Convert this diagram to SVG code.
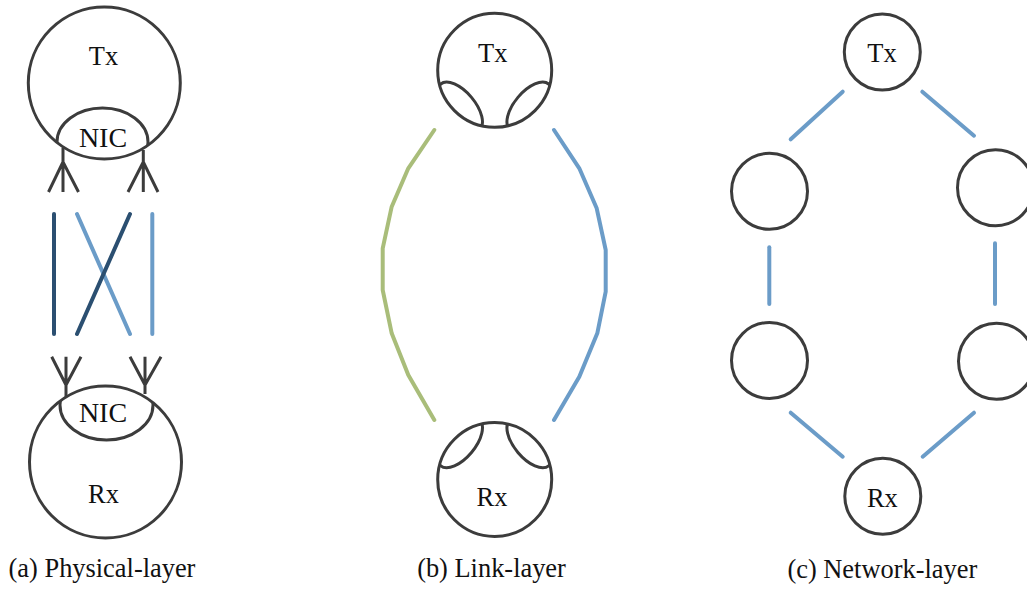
<svg xmlns="http://www.w3.org/2000/svg" width="1027" height="589" viewBox="0 0 1027 589">
<style>
.node{fill:none;stroke:#3c3c3c;stroke-width:3}
.lbl{font-family:"Liberation Serif","Times New Roman",serif;font-size:26.4px;fill:#111;text-anchor:middle}
.nic{font-size:28px}
.ant{fill:none;stroke:#3c3c3c;stroke-width:3;stroke-linecap:butt}
.lb{fill:none;stroke:#6b9cc8;stroke-width:4;stroke-linecap:round;stroke-linejoin:round}
.db{fill:none;stroke:#2b4f71;stroke-width:4;stroke-linecap:round}
.gr{fill:none;stroke:#a9bd7a;stroke-width:4;stroke-linecap:round;stroke-linejoin:round}
</style>
<defs>
<clipPath id="cTxA"><circle cx="104.3" cy="83" r="76"/></clipPath>
<clipPath id="cRxA"><circle cx="105.5" cy="462" r="76"/></clipPath>
<clipPath id="cTxB"><circle cx="494.7" cy="70.3" r="57"/></clipPath>
<clipPath id="cRxB"><circle cx="494.7" cy="479.5" r="57"/></clipPath>
</defs>

<!-- Panel (a) -->
<g id="a-tx">
<circle class="node" cx="104.3" cy="83" r="76"/>
<text class="lbl" x="103.5" y="65">Tx</text>
</g>
<g id="a-tx-nic">
<ellipse class="node" cx="102.5" cy="142" rx="45.5" ry="34" clip-path="url(#cTxA)"/>
<text class="lbl nic" x="103" y="147">NIC</text>
</g>
<g id="a-rx">
<circle class="node" cx="105.5" cy="462" r="76"/>
<text class="lbl" x="103.5" y="503">Rx</text>
</g>
<g id="a-rx-nic">
<ellipse class="node" cx="106.5" cy="405" rx="46.5" ry="35" clip-path="url(#cRxA)"/>
<text class="lbl nic" x="103" y="422">NIC</text>
</g>
<g id="a-antennas">
<path class="ant" d="M63,148V192M63,162L48.5,192M63,162L78.5,192"/>
<path class="ant" d="M143.3,150V192M143.3,162L128,192M143.3,162L158,192"/>
<path class="ant" d="M66,356.7V397M66,385L51.7,356.7M66,385L81,356.7"/>
<path class="ant" d="M145,356.7V394M145,385L130,356.7M145,385L161,356.7"/>
</g>
<g id="a-connectors">
<line class="db" x1="54" y1="214" x2="54" y2="334"/>
<line class="lb" x1="77" y1="214" x2="130" y2="334"/>
<line class="db" x1="130" y1="214" x2="77" y2="334"/>
<line class="lb" x1="152.3" y1="214" x2="152.3" y2="334"/>
</g>
<text class="lbl" x="102" y="577">(a) Physical-layer</text>

<!-- Panel (b) -->
<g id="b-tx">
<circle class="node" cx="494.7" cy="70.3" r="57"/>
<g clip-path="url(#cTxB)">
<ellipse class="node" cx="460" cy="107" rx="30" ry="15" transform="rotate(50 460 107)"/>
<ellipse class="node" cx="529.4" cy="107" rx="30" ry="15" transform="rotate(-50 529.4 107)"/>
</g>
<text class="lbl" x="492.7" y="62">Tx</text>
</g>
<g id="b-rx">
<circle class="node" cx="494.7" cy="479.5" r="57"/>
<g clip-path="url(#cRxB)">
<ellipse class="node" cx="460" cy="442.8" rx="30" ry="15" transform="rotate(-50 460 442.8)"/>
<ellipse class="node" cx="529.4" cy="442.8" rx="30" ry="15" transform="rotate(50 529.4 442.8)"/>
</g>
<text class="lbl" x="492" y="506">Rx</text>
</g>
<g id="b-connectors">
<polyline class="gr" points="434.3,130 408.3,168.3 391.7,206.7 382.7,248.3 382.7,290 391.7,333.3 408.3,375 434.3,420"/>
<polyline class="lb" points="554,130 579.3,168.3 596.7,208.3 605.7,250 605.7,291.7 597.3,333.3 579.3,376.7 554,420"/>
</g>
<text class="lbl" x="491.5" y="577">(b) Link-layer</text>

<!-- Panel (c) -->
<g id="c-tx">
<circle class="node" cx="882.3" cy="52" r="38"/>
<text class="lbl" x="882" y="61.7">Tx</text>
</g>
<g id="c-n1"><circle class="node" cx="769.5" cy="191.3" r="38"/></g>
<g id="c-n2"><circle class="node" cx="995.5" cy="187.7" r="38"/></g>
<g id="c-n3"><circle class="node" cx="769.5" cy="360.5" r="38"/></g>
<g id="c-n4"><circle class="node" cx="996.5" cy="361.3" r="38"/></g>
<g id="c-rx">
<circle class="node" cx="882.8" cy="496.2" r="38"/>
<text class="lbl" x="882.3" y="506.7">Rx</text>
</g>
<g id="c-connectors">
<line class="lb" x1="790.7" y1="139.3" x2="842.7" y2="91.7"/>
<line class="lb" x1="922.3" y1="91.7" x2="974" y2="135.7"/>
<line class="lb" x1="769.3" y1="247.3" x2="769.3" y2="304"/>
<line class="lb" x1="995" y1="243.3" x2="995" y2="304"/>
<line class="lb" x1="790.7" y1="412.7" x2="842.7" y2="456.7"/>
<line class="lb" x1="922.7" y1="456.7" x2="974" y2="412.7"/>
</g>
<text class="lbl" x="882.3" y="578">(c) Network-layer</text>
</svg>
